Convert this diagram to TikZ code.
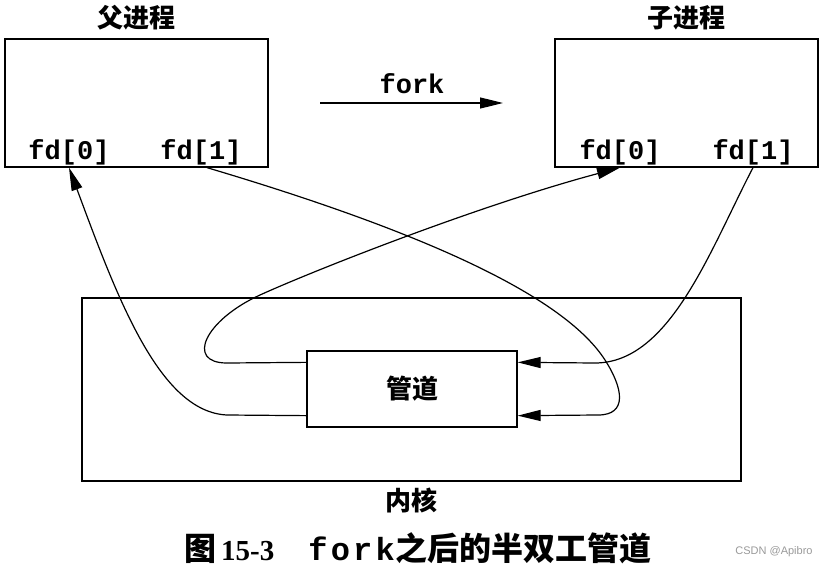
\documentclass[tikz,border=0pt]{standalone}
\usepackage{fontspec}
\setmainfont{Liberation Serif}
\setmonofont{Liberation Mono}
\newfontfamily\cjk{Noto Sans CJK SC}
\newfontfamily\wmfont{Liberation Sans}
\usetikzlibrary{positioning,calc,arrows.meta}

\begin{document}
\begin{tikzpicture}[
    x=1pt,y=-1pt,
    every node/.style={inner sep=0pt},
    proc/.style={draw,line width=1.3pt,minimum width=263pt,minimum height=128pt},
    ttl/.style={font=\cjk\bfseries\fontsize{26}{26}\selectfont},
    fd/.style={font=\ttfamily\bfseries\fontsize{27}{27}\selectfont},
    wire/.style={line width=1.2pt},
    >={Triangle[length=23pt,width=11pt]},
  ]
  \useasboundingbox (0,0) rectangle (826,567);

  % parent and child
  \node[proc] (par) at (136.5,103) {};
  \node[proc] (chd) at (686.5,103) {};
  \node[ttl, above=8pt of par] (parlbl) {父进程};
  \node[ttl, above=8pt of chd] (chdlbl) {子进程};
  \node[fd] (pfd0) at (69,152) {fd[0]};
  \node[fd] (pfd1) at (201,152) {fd[1]};
  \node[fd] (cfd0) at (620,152) {fd[0]};
  \node[fd] (cfd1) at (753,152) {fd[1]};

  % fork
  \node[fd] (forklbl) at (412,84) {fork};
  \coordinate (forkA) at (320,103);
  \coordinate (forkB) at (503,103);
  \draw[wire,->] (forkA) -- (forkB);

  % kernel and pipe
  \node[draw,line width=1.3pt,minimum width=659pt,minimum height=183pt] (ker) at (411.5,389.5) {};
  \node[ttl, below=6pt of ker] (kerlbl) {内核};
  \node[ttl,draw,line width=1.3pt,minimum width=210pt,minimum height=76pt] (pipe) at (412,389) {管道};

  % the four ends
  \draw[wire,->] ([yshift=12pt]pipe.south west) -- (227,415)
    .. controls (160,412) and (118,300) .. (pfd0 |- par.south);
  \draw[wire,->] ([yshift=-12pt]pipe.north west) -- (227,363)
    .. controls (185,363) and (205,320) .. (260,295)
    .. controls (315,270) and (480,205) .. (cfd0 |- chd.south);
  \draw[wire,->] ($(pfd1 |- par.south)+(6,0)$)
    .. controls (400,225) and (560,290) .. (605,360)
    .. controls (623,388) and (628,415) .. (598,415)
    -- ([yshift=12pt]pipe.south east);
  \draw[wire,->] (cfd1 |- chd.south)
    .. controls (710,250) and (670,363) .. (595,363)
    -- ([yshift=-12pt]pipe.north east);

  % caption
  \node[font=\cjk\bfseries\fontsize{32}{32}\selectfont] (cap) at (418,548)
    {图\hspace{5pt}{\rmfamily\bfseries\fontsize{29}{29}\selectfont 15-3}\hspace{34pt}%
     {\ttfamily\addfontfeatures{LetterSpace=10}\fontsize{32}{32}\selectfont fork}\hspace{1pt}之后的半双工管道};
  \node[font=\wmfont\fontsize{11}{11}\selectfont, text=gray!80] (wm) at (774,552) {CSDN @Apibro};
\end{tikzpicture}
\end{document}
